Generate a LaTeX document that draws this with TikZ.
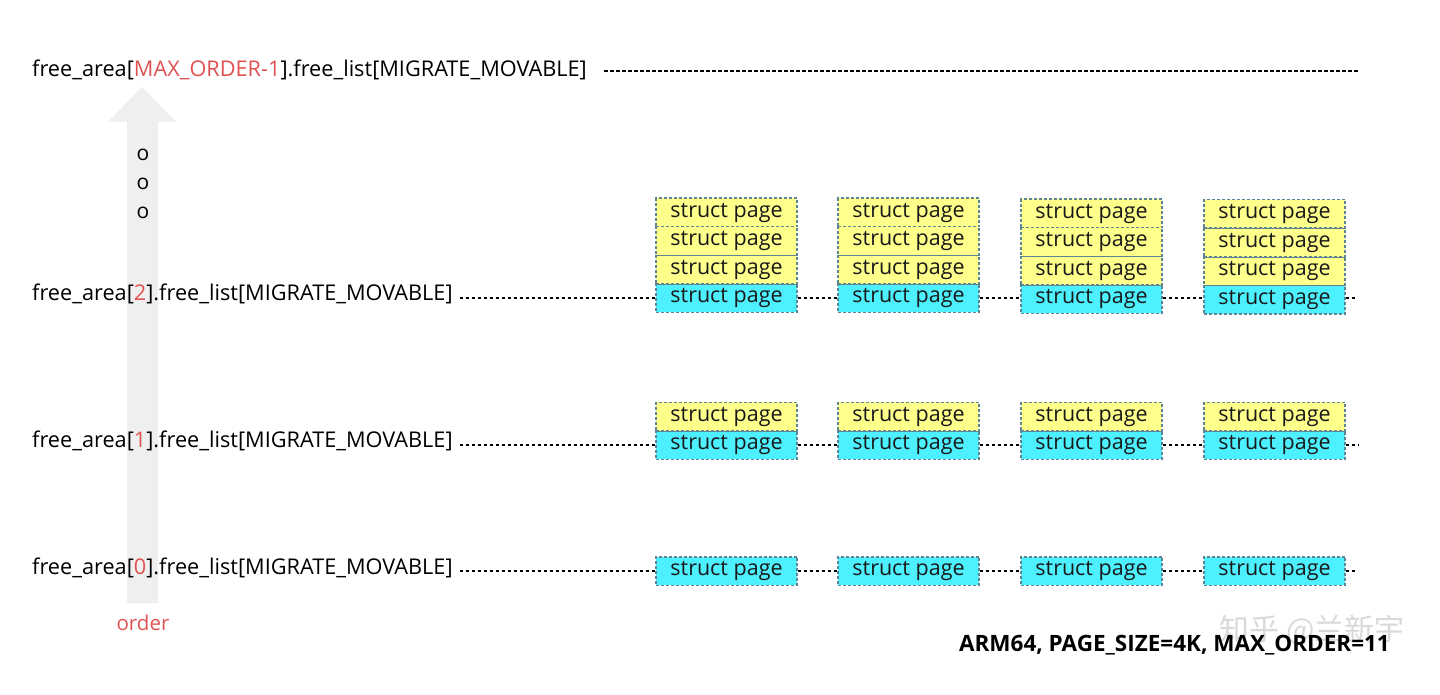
\documentclass[tikz,border=0pt]{standalone}
\usepackage{fontspec}
\setmainfont{Open Sans}
\newfontfamily\cjkfont{Noto Sans CJK SC}
\usetikzlibrary{positioning}
\definecolor{pgyellow}{HTML}{FFFF8C}
\definecolor{pgcyan}{HTML}{4CF0FF}
\definecolor{pgborder}{HTML}{5F8595}
\definecolor{lblred}{HTML}{E05252}
\definecolor{arrowgray}{HTML}{EFEFEF}
\newcommand{\structpg}{\raisebox{-2pt}{struct page}}
\begin{document}
\begin{tikzpicture}[x=1pt,y=-1pt,
  pagebox/.style={draw=pgborder,line width=1.5pt,dash pattern=on 3pt off 2pt,
    minimum width=141pt,minimum height=28.5pt,inner sep=0pt,
    font=\fontsize{21.5}{25}\selectfont,text=black!90},
  ybox/.style={pagebox,fill=pgyellow},
  cbox/.style={pagebox,fill=pgcyan},
  lbl/.style={anchor=west,inner sep=0pt,font=\fontsize{21.7}{25}\selectfont},
  link/.style={draw=black,line width=1.3pt,dash pattern=on 3.5pt off 2.5pt},
  dot/.style={font=\fontsize{21}{24}\selectfont,inner sep=0pt}]
\useasboundingbox (0,0) rectangle (1440,695);
% order arrow
\fill[arrowgray] (127,603) -- (127,122) -- (108,122) -- (142,87) -- (176,122) -- (158,122) -- (158,603) -- cycle;
\node[font=\fontsize{20.5}{24}\selectfont,text=lblred,inner sep=0pt] (order) at (143,623) {order};
\node[dot] (d1) at (143,155) {o};
\node[dot] (d2) at (143,184) {o};
\node[dot] (d3) at (143,213) {o};
% labels
\node[lbl] (Ltop) at (32,70) {free\_area[\textcolor{lblred}{MAX\_ORDER-1}].free\_list[MIGRATE\_MOVABLE]};
\node[lbl] (L2) at (32,294) {free\_area[\textcolor{lblred}{2}].free\_list[MIGRATE\_MOVABLE]};
\node[lbl] (L1) at (32,441) {free\_area[\textcolor{lblred}{1}].free\_list[MIGRATE\_MOVABLE]};
\node[lbl] (L0) at (32,568) {free\_area[\textcolor{lblred}{0}].free\_list[MIGRATE\_MOVABLE]};
% boxes
\foreach \c/\x/\dy in {a/726.5/0,b/908.5/0,c/1091.5/1,d/1274.5/1.5}{
  \node[cbox] (r2\c) at (\x,298+\dy) {\structpg};
  \node[ybox] (r2\c y1) at (\x,269.5+\dy) {\structpg};
  \node[ybox] (r2\c y2) at (\x,241+\dy) {\structpg};
  \node[ybox] (r2\c y3) at (\x,212.5+\dy) {\structpg};
  \node[cbox] (r1\c) at (\x,445) {\structpg};
  \node[ybox] (r1\c y1) at (\x,416.5) {\structpg};
  \node[cbox] (r0\c) at (\x,571) {\structpg};
}
% ends
\coordinate (Etop) at (1358,71);
\coordinate (E2) at (1356,297);
\coordinate (E1) at (1358,444);
\coordinate (E0) at (1356,572);
% connectors
\draw[link] ([xshift=17pt]Ltop.east |- Etop) -- (Etop);
\draw[link] ([xshift=7pt]L2.east |- r2a.west) -- (r2a.west);
\draw[link] (r2a.east) -- (r2b.west);
\draw[link] (r2b.east) -- (r2c.west |- r2b.east);
\draw[link] (r2c.east |- r2b.east) -- (r2d.west |- r2b.east);
\draw[link] (r2d.east |- r2b.east) -- (E2 |- r2b.east);
\draw[link] ([xshift=7pt]L1.east |- r1a.west) -- (r1a.west);
\draw[link] (r1a.east) -- (r1b.west);
\draw[link] (r1b.east) -- (r1c.west);
\draw[link] (r1c.east) -- (r1d.west);
\draw[link] (r1d.east) -- (E1 |- r1d.east);
\draw[link] ([xshift=7pt]L0.east |- r0a.west) -- (r0a.west);
\draw[link] (r0a.east) -- (r0b.west);
\draw[link] (r0b.east) -- (r0c.west);
\draw[link] (r0c.east) -- (r0d.west);
\draw[link] (r0d.east) -- (E0 |- r0d.east);
% caption
\node[font=\bfseries\fontsize{22.5}{26}\selectfont,anchor=east,inner sep=0pt] (cap) at (1390,645) {ARM64, PAGE\_SIZE=4K, MAX\_ORDER=11};
\node[font=\cjkfont\fontsize{30}{34}\selectfont,text=black,opacity=0.15,anchor=east,inner sep=0pt] (wm) at (1405,630) {知乎 @兰新宇};
\end{tikzpicture}
\end{document}
